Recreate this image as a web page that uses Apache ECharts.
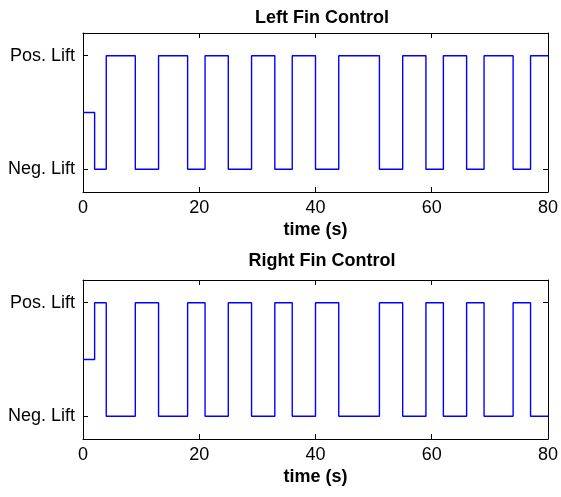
<!DOCTYPE html>
<html><head><meta charset="utf-8">
<script src="https://cdn.jsdelivr.net/npm/echarts@6/dist/echarts.min.js"></script>
<style>html,body{margin:0;padding:0;background:#fff}#c{width:561px;height:497px}</style>
</head><body><div id="c"></div>
<script>
// Switch times (s) and control levels (1 = Pos. Lift, 0 = Neg. Lift, 0.5 = neutral)
const leftTimes  = [0, 2, 4, 9, 13, 18, 21, 25, 29, 33, 36, 40, 44, 51, 55, 59, 62, 66, 69, 74, 77, 80];
const leftLevels = [0.5, 0, 1, 0, 1, 0, 1, 0, 1, 0, 1, 0, 1, 0, 1, 0, 1, 0, 1, 0, 1, 1];
const rightTimes  = [0, 2, 4, 9, 13, 18, 21, 25, 29, 33, 36, 40, 44, 51, 55, 59, 62, 66, 69, 74, 77, 80];
const rightLevels = [0.5, 1, 0, 1, 0, 1, 0, 1, 0, 1, 0, 1, 0, 1, 0, 1, 0, 1, 0, 1, 0, 0];
const yTickValues = [0, 1];
const yTickLabels = {0: 'Neg. Lift', 1: 'Pos. Lift'};
const xTicks = [0, 20, 40, 60, 80];
const titles = ['Left Fin Control', 'Right Fin Control'];
const xName = 'time (s)';

const chart = echarts.init(document.getElementById('c'));
const font = 'Liberation Sans, Arial, sans-serif';
const grids = [
  {left: 83, right: 10, top: 33, height: 159},
  {left: 83, right: 10, top: 280, height: 159}
];
function xAxes(gi) {
  return [
    {type: 'value', gridIndex: gi, min: 0, max: 80, interval: 20, position: 'bottom',
     name: xName, nameLocation: 'middle', nameGap: 29,
     nameTextStyle: {fontFamily: font, fontWeight: 'bold', fontSize: 18, color: '#000'},
     axisLine: {onZero: false, lineStyle: {color: '#000', width: 1}},
     axisTick: {inside: true, length: 5, lineStyle: {color: '#000'}},
     axisLabel: {fontFamily: font, fontSize: 18, color: '#000', margin: 7},
     splitLine: {show: false}},
    {type: 'value', gridIndex: gi, min: 0, max: 80, interval: 20, position: 'top',
     axisLine: {onZero: false, lineStyle: {color: '#000', width: 1}},
     axisTick: {inside: true, length: 5, lineStyle: {color: '#000'}},
     axisLabel: {show: false}, splitLine: {show: false}}
  ];
}
function yAxes(gi) {
  return [
    {type: 'value', gridIndex: gi, min: -0.2, max: 1.2, position: 'left',
     axisLine: {show: true, onZero: false, lineStyle: {color: '#000', width: 1}},
     axisTick: {show: true, inside: true, length: 5, customValues: yTickValues, lineStyle: {color: '#000'}},
     axisLabel: {customValues: yTickValues, formatter: v => yTickLabels[Math.round(v)] || '',
       fontFamily: font, fontSize: 18, color: '#000', margin: 8},
     splitLine: {show: false}},
    {type: 'value', gridIndex: gi, min: -0.2, max: 1.2, position: 'right',
     axisLine: {show: true, onZero: false, lineStyle: {color: '#000', width: 1}},
     axisTick: {show: true, inside: true, length: 5, customValues: yTickValues, lineStyle: {color: '#000'}},
     axisLabel: {show: false}, splitLine: {show: false}}
  ];
}
function pts(t, v) { return t.map((x, i) => [x, v[i]]); }
chart.setOption({
  animation: false,
  backgroundColor: '#fff',
  title: [
    {text: titles[0], left: 317, top: 4, textAlign: 'center',
     textStyle: {fontFamily: font, fontWeight: 'bold', fontSize: 18, color: '#000'}},
    {text: titles[1], left: 317, top: 247, textAlign: 'center',
     textStyle: {fontFamily: font, fontWeight: 'bold', fontSize: 18, color: '#000'}}
  ],
  grid: grids,
  xAxis: [...xAxes(0), ...xAxes(1)],
  yAxis: [...yAxes(0), ...yAxes(1)],
  series: [
    {type: 'line', step: 'end', xAxisIndex: 0, yAxisIndex: 0, data: pts(leftTimes, leftLevels),
     showSymbol: false, lineStyle: {color: '#0000ff', width: 1.4}},
    {type: 'line', step: 'end', xAxisIndex: 2, yAxisIndex: 2, data: pts(rightTimes, rightLevels),
     showSymbol: false, lineStyle: {color: '#0000ff', width: 1.4}}
  ]
});
</script></body></html>
